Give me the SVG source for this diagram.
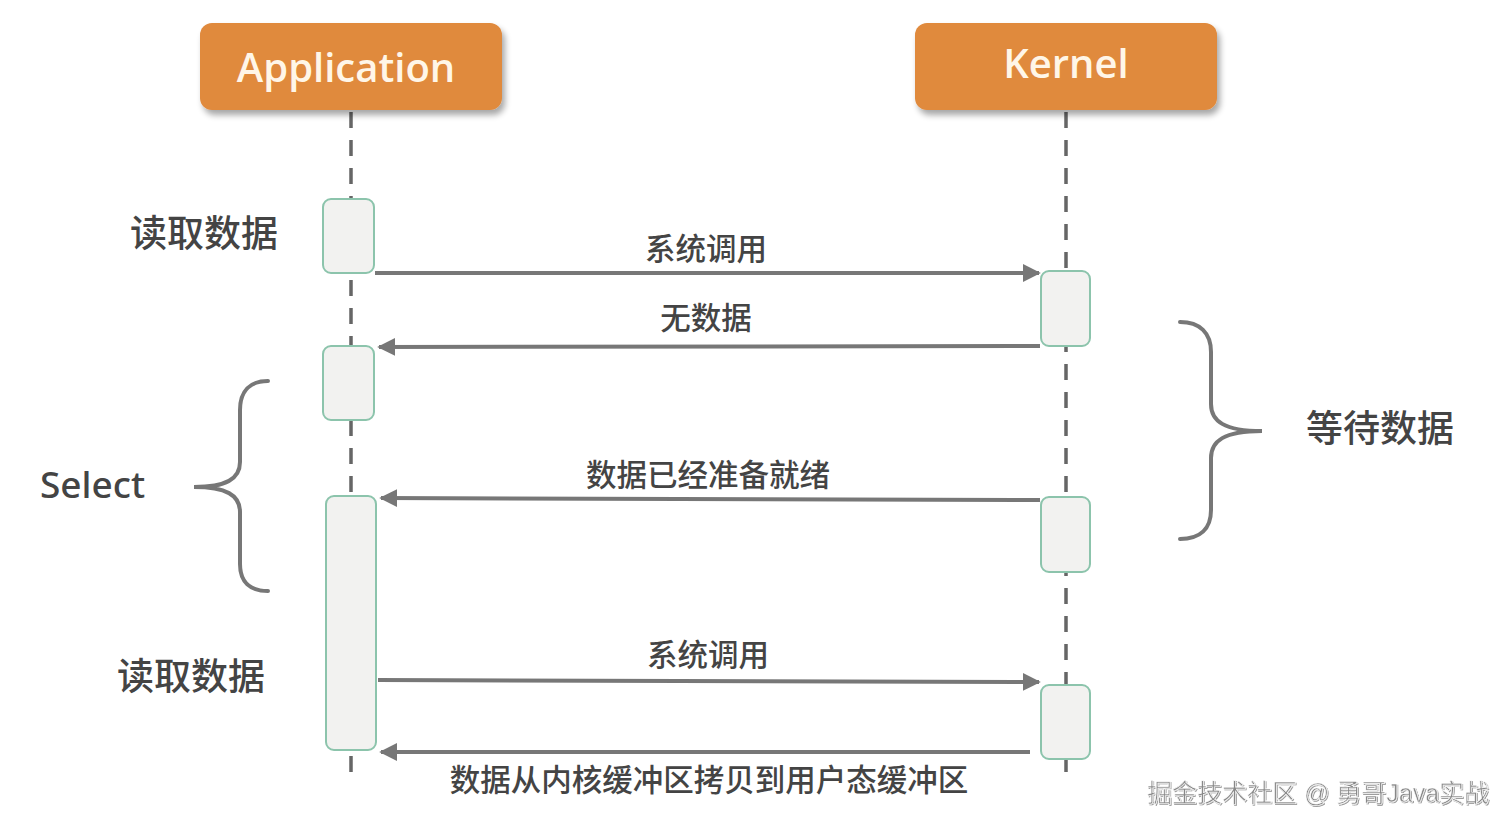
<svg xmlns="http://www.w3.org/2000/svg" width="1511" height="831" viewBox="0 0 1511 831">
<defs>
<filter id="sh" x="-10%" y="-10%" width="125%" height="140%">
<feGaussianBlur in="SourceAlpha" stdDeviation="3"/>
<feOffset dx="3" dy="5" result="b"/>
<feComponentTransfer><feFuncA type="linear" slope="0.35"/></feComponentTransfer>
<feMerge><feMergeNode/><feMergeNode in="SourceGraphic"/></feMerge>
</filter>
<filter id="wm" x="-5%" y="-20%" width="110%" height="150%">
<feOffset in="SourceAlpha" dx="1" dy="1" result="o"/>
<feComponentTransfer in="o" result="o2"><feFuncA type="linear" slope="0.4"/></feComponentTransfer>
<feMerge><feMergeNode in="o2"/><feMergeNode in="SourceGraphic"/></feMerge>
</filter>
<marker id="ah" viewBox="0 0 10 10" refX="9" refY="5" markerWidth="4.5" markerHeight="4.5" orient="auto-start-reverse" markerUnits="strokeWidth">
<path d="M0,0 L10,5 L0,10 z" fill="#777"/>
</marker>
</defs>
<style>
.hdr{fill:#E08A3E;}
.hdrt{font-family:"Open Sans","Noto Sans",sans-serif;font-size:40px;font-weight:600;fill:#FFF6E8;text-anchor:middle;}
.life{stroke:#666;stroke-width:3.5;stroke-dasharray:16,12;fill:none;}
.act{fill:#F2F2F0;stroke:#8CC4AC;stroke-width:2;}
.msg{stroke:#777;stroke-width:4;fill:none;}
.lbl{font-family:"Noto Sans CJK SC",sans-serif;font-size:30.5px;font-weight:500;fill:#444;text-anchor:middle;}
.side{font-family:"Noto Sans","Noto Sans CJK SC",sans-serif;font-size:37px;font-weight:500;fill:#444;}
.brace{stroke:#777;stroke-width:4;fill:none;stroke-linecap:round;}
.wm{font-family:"Liberation Sans","Noto Sans CJK SC",sans-serif;font-size:25px;fill:#888;stroke:#fff;stroke-width:0.6;}
</style>
<rect width="1511" height="831" fill="#FFFFFF"/>
<g id="lifelines">
<line class="life" x1="351" y1="112" x2="351" y2="775"/>
<line class="life" x1="1066" y1="112" x2="1066" y2="775"/>
</g>
<g id="application">
<rect class="hdr" x="200" y="23" width="302" height="87" rx="12" filter="url(#sh)"/>
<text class="hdrt" x="346" y="82">Application</text>
</g>
<g id="kernel">
<rect class="hdr" x="915" y="23" width="302" height="87" rx="12" filter="url(#sh)"/>
<text class="hdrt" x="1066" y="78">Kernel</text>
</g>
<g id="app-act-1"><rect class="act" x="323" y="199" width="51" height="74" rx="8"/></g>
<g id="app-act-2"><rect class="act" x="323" y="346" width="51" height="74" rx="8"/></g>
<g id="app-act-3"><rect class="act" x="326" y="496" width="50" height="254" rx="8"/></g>
<g id="kernel-act-1"><rect class="act" x="1041" y="271" width="49" height="75" rx="8"/></g>
<g id="kernel-act-2"><rect class="act" x="1041" y="497" width="49" height="75" rx="8"/></g>
<g id="kernel-act-3"><rect class="act" x="1041" y="685" width="49" height="74" rx="8"/></g>
<g id="connectors">
<line class="msg" x1="375" y1="273" x2="1039" y2="273" marker-end="url(#ah)"/>
<line class="msg" x1="1040" y1="346" x2="379" y2="347" marker-end="url(#ah)"/>
<line class="msg" x1="1040" y1="500" x2="381" y2="498" marker-end="url(#ah)"/>
<line class="msg" x1="378" y1="680" x2="1039" y2="682" marker-end="url(#ah)"/>
<line class="msg" x1="1030" y1="752" x2="381" y2="752" marker-end="url(#ah)"/>
<path class="brace" d="M268,381 C250,381 240,391 240,410 L240,462 C240,479 226,487 194,487 C226,487 240,495 240,512 L240,564 C240,582 250,591 268,591"/>
<path class="brace" d="M1180,322 C1200,322 1211,333 1211,352 L1211,404 C1211,421 1224,431 1262,431 C1224,431 1211,441 1211,458 L1211,510 C1211,529 1200,539 1180,539"/>
</g>
<g id="labels">
<text class="lbl" x="706" y="260">系统调用</text>
<text class="lbl" x="706" y="329">无数据</text>
<text class="lbl" x="708" y="486">数据已经准备就绪</text>
<text class="lbl" x="708" y="666">系统调用</text>
<text class="lbl" x="709" y="791">数据从内核缓冲区拷贝到用户态缓冲区</text>
</g>
<g id="side-labels">
<text class="side" x="130" y="247">读取数据</text>
<text class="side" x="40" y="498">Select</text>
<text class="side" x="117" y="690">读取数据</text>
<text class="side" x="1306" y="442">等待数据</text>
</g>
<g id="watermark">
<text class="wm" x="1147" y="802" filter="url(#wm)">掘金技术社区 @ 勇哥Java实战</text>
</g>
</svg>
